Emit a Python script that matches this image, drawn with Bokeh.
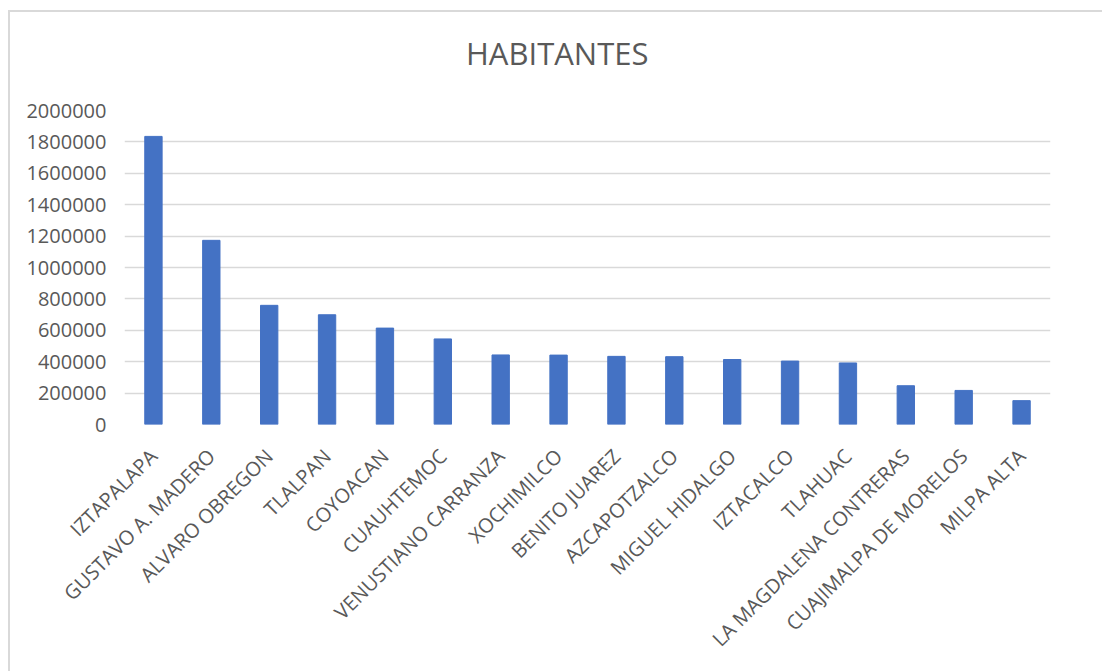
import math
from bokeh.plotting import figure
from bokeh.models import FixedTicker, NumeralTickFormatter, ColumnDataSource, Range1d, Div
from bokeh.layouts import column
from bokeh.embed import file_html
from bokeh.resources import INLINE

categories = ["IZTAPALAPA", "GUSTAVO A. MADERO", "ALVARO OBREGON", "TLALPAN", "COYOACAN",
              "CUAUHTEMOC", "VENUSTIANO CARRANZA", "XOCHIMILCO", "BENITO JUAREZ", "AZCAPOTZALCO",
              "MIGUEL HIDALGO", "IZTACALCO", "TLAHUAC", "LA MAGDALENA CONTRERAS",
              "CUAJIMALPA DE MORELOS", "MILPA ALTA"]
habitantes = [1835000, 1173000, 759000, 699000, 614000, 545000, 443000, 442000, 434000,
              432000, 414000, 404000, 392000, 247000, 217000, 152000]
y_ticks = [0, 200000, 400000, 600000, 800000, 1000000, 1200000, 1400000, 1600000, 1800000, 2000000]
title_text = "HABITANTES"

FONT = "Open Sans"
GREY = "#595959"
GRID = "#D9D9D9"

source = ColumnDataSource(dict(cat=categories, val=habitantes))

title_div = Div(
    text=('<div style="padding:20px 0 0 456px; font-family:\'Open Sans\'; font-size:31px; '
          'line-height:normal; color:%s; white-space:nowrap;">%s</div>' % (GREY, title_text)),
    width=1092, height=70, margin=0)

p = figure(title=None, x_range=categories, y_range=Range1d(0, 2000000),
           width=1092, height=589, output_backend="svg", toolbar_location=None, margin=0,
           min_border_left=114, min_border_right=52, min_border_top=28, min_border_bottom=247)

p.vbar(x="cat", top="val", width=0.3, source=source, color="#4472C4", line_color="#4472C4")

p.outline_line_color = None
p.xgrid.grid_line_color = None
p.ygrid.grid_line_color = GRID
p.ygrid.grid_line_width = 1.5
p.ygrid.ticker = FixedTicker(ticks=y_ticks)

p.yaxis.ticker = FixedTicker(ticks=y_ticks)
p.yaxis.formatter = NumeralTickFormatter(format="0")
p.yaxis.axis_line_color = None
p.yaxis.major_tick_line_color = None
p.yaxis.minor_tick_line_color = None
p.yaxis.major_label_text_font = FONT
p.yaxis.major_label_text_font_size = "20px"
p.yaxis.major_label_text_color = GREY
p.yaxis.major_label_standoff = 12

p.xaxis.axis_line_color = None
p.xaxis.major_tick_line_color = None
p.xaxis.major_label_orientation = math.pi / 4
p.xaxis.major_label_text_font = FONT
p.xaxis.major_label_text_font_size = "20px"
p.xaxis.major_label_text_color = GREY
p.xaxis.major_label_standoff = 22

p.background_fill_color = "white"
p.border_fill_color = "white"

layout = column(title_div, p, spacing=0)
layout.styles = {"border-left": "2px solid #D9D9D9", "border-top": "2px solid #D9D9D9",
                 "margin-left": "8px", "margin-top": "10px", "background": "white"}

open("out.html", "w").write(file_html(layout, INLINE))
